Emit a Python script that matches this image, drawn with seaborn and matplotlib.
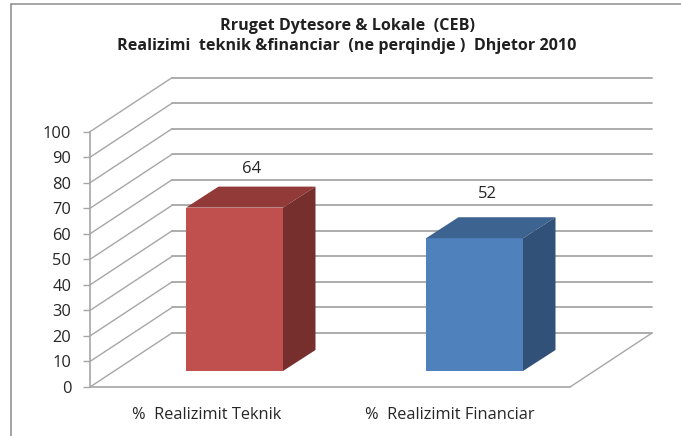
import matplotlib
matplotlib.use("Agg")
import matplotlib.pyplot as plt
from matplotlib.patches import Polygon
from matplotlib.lines import Line2D
from matplotlib.transforms import Affine2D
import seaborn as sns
import pandas as pd

categories = ["%  Realizimit Teknik", "%  Realizimit Financiar"]
values = [64, 52]
title_lines = ["Rruget Dytesore & Lokale  (CEB)",
               "Realizimi  teknik &financiar  (ne perqindje )  Dhjetor 2010"]
yticks = list(range(0, 101, 10))

front_colors = ["#C0504D", "#4F81BD"]
top_colors = ["#923A38", "#3D6390"]
side_colors = ["#772F2E", "#325179"]
GRID = "#A6A6A6"
TEXT = "#262626"

W, H = 681, 436
sns.set_style("white")
plt.rcParams["font.family"] = ["Open Sans", "DejaVu Sans"]

fig = plt.figure(figsize=(W / 100, H / 100), dpi=100)
L, R, B, T = 90, 570, 387, 131.7
ax = fig.add_axes([L / W, 1 - B / H, (R - L) / W, (B - T) / H])

df = pd.DataFrame({"cat": categories, "val": values})
sns.barplot(data=df, x="cat", y="val", hue="cat", palette=front_colors, legend=False,
            width=97 / 240, saturation=1, ax=ax, zorder=3, linewidth=0)
ax.set_xlim(-0.5, 1.5)
ax.set_ylim(0, 100)

px_x = 2.0 / (R - L)
px_y = 100.0 / (B - T)
wall_dx, wall_dy = 82 * px_x, 54 * px_y
bar_dx, bar_dy = 24.5 * px_x, 16 * px_y
dep_dx, dep_dy = 32.5 * px_x, 21 * px_y

# walls
x0, x1 = -0.5, 1.5
for v in yticks:
    ax.plot([x0, x0 + wall_dx], [v, v + wall_dy], color=GRID, lw=1.0, clip_on=False, zorder=1)
    ax.plot([x0 + wall_dx, x1 + wall_dx], [v + wall_dy] * 2, color=GRID, lw=1.3, clip_on=False, zorder=1)
ax.plot([x1, x1 + wall_dx], [0, wall_dy], color=GRID, lw=1.0, clip_on=False, zorder=1)

# bars: front faces shifted onto the floor, with top and side faces
for i, p in enumerate(ax.patches[:len(values)]):
    p.set_x(p.get_x() + bar_dx)
    p.set_y(bar_dy)
    p.set_clip_on(False)
    xa, xb = p.get_x(), p.get_x() + p.get_width()
    yb, yt = bar_dy, bar_dy + p.get_height()
    ax.add_patch(Polygon([(xa, yt), (xb, yt), (xb + dep_dx, yt + dep_dy), (xa + dep_dx, yt + dep_dy)],
                         closed=True, fc=top_colors[i], ec="none", clip_on=False, zorder=3))
    ax.add_patch(Polygon([(xb, yb), (xb, yt), (xb + dep_dx, yt + dep_dy), (xb + dep_dx, yb + dep_dy)],
                         closed=True, fc=side_colors[i], ec="none", clip_on=False, zorder=3))

label_offsets = [(42, 55), (37, 60)]
for i, v in enumerate(values):
    ax.annotate(str(v), (i, v), xytext=(label_offsets[i][0] * 0.72, label_offsets[i][1] * 0.72),
                textcoords="offset points", ha="center", va="center", fontsize=12, color=TEXT,
                annotation_clip=False)

for s in ["top", "right"]:
    ax.spines[s].set_visible(False)
for s in ["left", "bottom"]:
    ax.spines[s].set_color(GRID)
    ax.spines[s].set_linewidth(1.2)
ax.patch.set_alpha(0)
ax.set_yticks(yticks)
ax.set_xticks(range(len(categories)))
ax.set_xticklabels(categories)
ax.set_xlabel("")
ax.set_ylabel("")
ax.tick_params(axis="y", left=True, length=5, width=1.0, color=GRID, pad=8.5, labelsize=11.8, labelcolor=TEXT)
ax.tick_params(axis="x", bottom=False, pad=11, labelsize=11.8, labelcolor=TEXT)
first = ax.get_xticklabels()[0]
first.set_transform(first.get_transform() + Affine2D().translate(-3, 0))

for line, y in zip(title_lines, [26.5, 46.5]):
    fig.text(347 / W, 1 - y / H, line, ha="center", va="center", fontsize=11.6,
             fontweight="bold", color="#202020")

# picture frame
fig.add_artist(Line2D([10.5 / W, 10.5 / W], [0, 1 - 4.5 / H], color="#8C8C8C", lw=1.1))
fig.add_artist(Line2D([10.5 / W, 1], [1 - 4.5 / H, 1 - 4.5 / H], color="#8C8C8C", lw=1.1))

fig.savefig("out.png", dpi=100, facecolor="white")
